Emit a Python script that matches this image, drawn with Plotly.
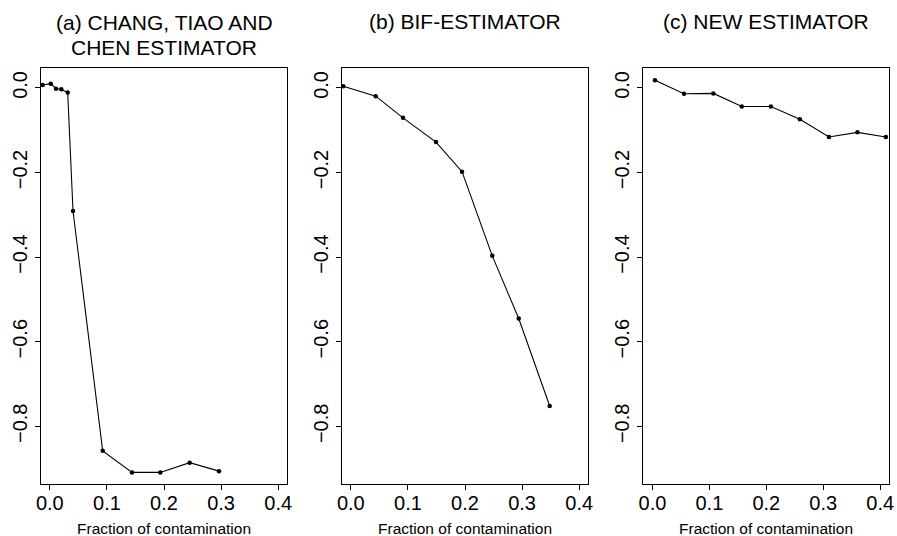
import plotly.graph_objects as go

# Panel (a) CHANG, TIAO AND CHEN ESTIMATOR
a_x = [-0.0125, 0.0016, 0.0108, 0.020, 0.0313, 0.0406, 0.0926, 0.144, 0.1935, 0.245, 0.2964]
a_y = [0.007, 0.010, -0.002, -0.003, -0.011, -0.291, -0.858, -0.909, -0.909, -0.886, -0.906]

# Panel (b) BIF-ESTIMATOR
b_x = [-0.0132, 0.0436, 0.0914, 0.1492, 0.1948, 0.2478, 0.2941, 0.3484]
b_y = [0.004, -0.0195, -0.0707, -0.128, -0.198, -0.397, -0.545, -0.752]

# Panel (c) NEW ESTIMATOR
c_x = [0.0045, 0.0555, 0.107, 0.157, 0.208, 0.259, 0.310, 0.360, 0.410]
c_y = [0.018, -0.0138, -0.013, -0.0439, -0.0439, -0.0739, -0.116, -0.105, -0.116]

title_lines = [["(a) CHANG, TIAO AND", "CHEN ESTIMATOR"], ["(b) BIF-ESTIMATOR"], ["(c) NEW ESTIMATOR"]]
x_label = "Fraction of contamination"
x_ticks = [0.0, 0.1, 0.2, 0.3, 0.4]
x_tick_text = ["0.0", "0.1", "0.2", "0.3", "0.4"]
y_ticks = [0.0, -0.2, -0.4, -0.6, -0.8]
y_tick_text = ["0.0", "\u22120.2", "\u22120.4", "\u22120.6", "\u22120.8"]

W, H = 897, 536
FONT = "Liberation Sans, Arial, Helvetica, sans-serif"

x_doms_px = [(40.7, 287.3), (341.7, 588.3), (643.3, 889.3)]
y_top_px, y_bot_px = 68.3, 484.0


def fx(px):
    return px / W


def fy(py):
    return 1 - py / H


y_dom = [fy(y_bot_px), fy(y_top_px)]

fig = go.Figure()
series = [(a_x, a_y), (b_x, b_y), (c_x, c_y)]
for i, (xs, ys) in enumerate(series):
    sfx = "" if i == 0 else str(i + 1)
    fig.add_trace(go.Scatter(
        x=xs, y=ys, mode="lines+markers",
        line=dict(color="black", width=1.1),
        marker=dict(color="black", size=4.5),
        xaxis="x" + sfx, yaxis="y" + sfx, showlegend=False,
        hoverinfo="skip",
    ))

layout = dict(
    width=W, height=H,
    margin=dict(l=0, r=0, t=0, b=0),
    paper_bgcolor="white", plot_bgcolor="white",
    font=dict(family=FONT, color="black", size=20),
    annotations=[],
)

for i, (l, r) in enumerate(x_doms_px):
    sfx = "" if i == 0 else str(i + 1)
    layout["xaxis" + sfx] = dict(
        domain=[fx(l), fx(r)], range=[-0.016, 0.416],
        tickmode="array", tickvals=x_ticks, ticktext=x_tick_text,
        ticks="outside", ticklen=5, tickwidth=1, tickcolor="black",
        showline=True, linecolor="black", linewidth=1, mirror=True,
        showgrid=False, zeroline=False,
        ticklabelstandoff=-4,
        tickfont=dict(size=20, family=FONT),
        anchor="y" + sfx, fixedrange=True, automargin=False,
    )
    layout["yaxis" + sfx] = dict(
        domain=y_dom, range=[-0.9364, 0.0464],
        tickmode="array", tickvals=y_ticks, ticktext=y_tick_text,
        ticks="outside", ticklen=5, tickwidth=1, tickcolor="black",
        showline=True, linecolor="black", linewidth=1, mirror=True,
        showgrid=False, zeroline=False, tickangle=-90,
        ticklabelstandoff=0,
        tickfont=dict(size=20, family=FONT),
        anchor="x" + sfx, fixedrange=True, automargin=False,
    )
    cx = fx((l + r) / 2)
    layout["annotations"].append(dict(
        text=x_label, x=cx, y=fy(528), xref="paper", yref="paper",
        showarrow=False, font=dict(size=15.5, family=FONT),
        xanchor="center", yanchor="middle",
    ))
    lines = title_lines[i]
    centers = [21.3, 46.0] if len(lines) == 2 else [20.0]
    for txt, cy in zip(lines, centers):
        layout["annotations"].append(dict(
            text=txt, x=cx, y=fy(cy + 1), xref="paper", yref="paper",
            showarrow=False, font=dict(size=21, family=FONT),
            xanchor="center", yanchor="middle",
        ))

fig.update_layout(**layout)
fig.write_html(
    "out.html",
    config={"displayModeBar": False},
    post_script="document.body.style.margin='0';document.body.style.overflow='hidden';",
)
